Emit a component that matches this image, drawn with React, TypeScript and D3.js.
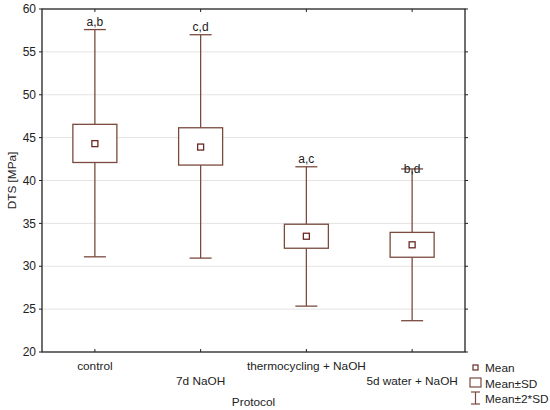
import React from 'react';
import * as d3 from 'd3';

const categories = ['control', '7d NaOH', 'thermocycling + NaOH', '5d water + NaOH'];
const means = [44.3, 43.9, 33.5, 32.5];
const sdLow = [42.1, 41.8, 32.1, 31.05];
const sdHigh = [46.55, 46.15, 34.9, 33.95];
const sd2Low = [31.1, 30.95, 25.35, 23.65];
const sd2High = [57.6, 57.0, 41.6, 41.35];
const letters = ['a,b', 'c,d', 'a,c', 'b,d'];
const yTicks = [20, 25, 30, 35, 40, 45, 50, 55, 60];
const legendItems = ['Mean', 'Mean±SD', 'Mean±2*SD'];

const W = 550;
const H = 410;
const M = { left: 42, right: 465, top: 9, bottom: 352 };
const BOX = '#7a4a3e';
const MEAN = '#6a2a22';
const FONT = '"Liberation Sans", Arial, sans-serif';
const letterDy = [-4, -4, -4, 4];

export default function App() {
  const x = d3.scaleBand<string>().domain(categories).range([M.left, M.right]).padding(0);
  const y = d3.scaleLinear().domain([20, 60]).range([M.bottom, M.top]);
  const cx = (c: string) => (x(c) ?? 0) + x.bandwidth() / 2;
  const boxW = 44;
  const capW = 22;

  return (
    <svg width={W} height={H} style={{ position: 'absolute', left: 0, top: 0, background: '#fff' }} fontFamily={FONT}>
      {yTicks.filter(t => t > 20 && t < 60).map(t => (
        <line key={'g' + t} x1={M.left} x2={M.right} y1={y(t)} y2={y(t)} stroke="#e3e3e3" strokeWidth={1} />
      ))}
      {categories.map((c, i) => {
        const xc = cx(c);
        return (
          <g key={c}>
            <line x1={xc} x2={xc} y1={y(sd2High[i])} y2={y(sdHigh[i])} stroke={BOX} strokeWidth={1.3} />
            <line x1={xc} x2={xc} y1={y(sdLow[i])} y2={y(sd2Low[i])} stroke={BOX} strokeWidth={1.3} />
            <line x1={xc - capW / 2} x2={xc + capW / 2} y1={y(sd2High[i])} y2={y(sd2High[i])} stroke={BOX} strokeWidth={1.3} />
            <line x1={xc - capW / 2} x2={xc + capW / 2} y1={y(sd2Low[i])} y2={y(sd2Low[i])} stroke={BOX} strokeWidth={1.3} />
            <rect x={xc - boxW / 2} y={y(sdHigh[i])} width={boxW} height={y(sdLow[i]) - y(sdHigh[i])} fill="#fff" stroke={BOX} strokeWidth={1.3} />
            <rect x={xc - 3} y={y(means[i]) - 3} width={6} height={6} fill="#fff" stroke={MEAN} strokeWidth={1.3} />
            <text x={xc} y={y(sd2High[i]) + letterDy[i]} textAnchor="middle" fontSize={12} fill="#222">{letters[i]}</text>
          </g>
        );
      })}
      <rect x={M.left} y={M.top} width={M.right - M.left} height={M.bottom - M.top} fill="none" stroke="#222" strokeWidth={1.3} />
      {yTicks.map(t => (
        <g key={'t' + t}>
          <line x1={M.left - 3} x2={M.left} y1={y(t)} y2={y(t)} stroke="#222" />
          <line x1={M.right} x2={M.right + 3} y1={y(t)} y2={y(t)} stroke="#222" />
          <text x={M.left - 6} y={y(t)} dy="0.35em" textAnchor="end" fontSize={12} fill="#222">{t}</text>
        </g>
      ))}
      {categories.map((c, i) => (
        <g key={'x' + c}>
          <line x1={cx(c)} x2={cx(c)} y1={M.bottom} y2={M.bottom - 3} stroke="#222" />
          <line x1={cx(c)} x2={cx(c)} y1={M.top} y2={M.top + 3} stroke="#222" />
          <text x={cx(c)} y={i % 2 === 0 ? 370 : 385} textAnchor="middle" fontSize={11.8} fill="#222">{c}</text>
        </g>
      ))}
      <text x={(M.left + M.right) / 2} y={406} textAnchor="middle" fontSize={11.8} fill="#222">Protocol</text>
      <text transform={`translate(16,${(M.top + M.bottom) / 2}) rotate(-90)`} textAnchor="middle" fontSize={11.8} fill="#222">DTS [MPa]</text>
      <g>
        <rect x={473} y={365} width={5} height={5} fill="#fff" stroke={MEAN} strokeWidth={1.2} />
        <rect x={470} y={378} width={11} height={9} fill="#fff" stroke={BOX} strokeWidth={1.2} />
        <line x1={475.5} x2={475.5} y1={392} y2={404} stroke={BOX} strokeWidth={1.2} />
        <line x1={471} x2={480} y1={392} y2={392} stroke={BOX} strokeWidth={1.2} />
        <line x1={471} x2={480} y1={404} y2={404} stroke={BOX} strokeWidth={1.2} />
        {legendItems.map((t, i) => (
          <text key={t} x={485} y={368 + i * 15.5} dy="0.35em" fontSize={11.8} fill="#222">{t}</text>
        ))}
      </g>
    </svg>
  );
}
